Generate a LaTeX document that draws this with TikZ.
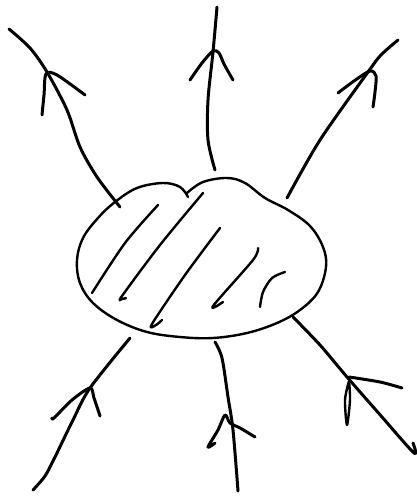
\documentclass[tikz,border=0pt]{standalone}
\begin{document}
\begin{tikzpicture}[x=1pt,y=-1pt,
  ink/.style={line width=3pt,line cap=round,line join=round},
  thin ink/.style={line width=2.4pt,line cap=round,line join=round}]
\useasboundingbox (0,0) rectangle (416,497);
% blob
\draw[thin ink] plot[smooth,tension=0.6] coordinates{(187,193) (203,182) (227,178) (245,183) (265,198) (288,210) (310,226) (323,247) (326,267) (318,292) (300,310) (277,323) (247,333) (213,338) (180,337) (147,332) (117,320) (93,303) (80,283) (77,260) (83,238) (98,218) (115,202) (137,188) (163,183) (180,187) (188,197)};
% hatching
\draw[thin ink] plot[smooth] coordinates{(158,205) (125,243) (92,293)};
\draw[thin ink] plot[smooth] coordinates{(203,193) (160,245) (122,296) (122,299) (126,298)};
\draw[thin ink] plot[smooth] coordinates{(220,228) (185,275) (152,324) (156,325) (162,320)};
\draw[thin ink] plot[smooth] coordinates{(258,248) (253,260) (213,306) (223,302)};
\draw[thin ink] plot[smooth] coordinates{(285,272) (272,278) (263,292) (260,307)};
% top-left arrow (outward)
\draw[ink] plot[smooth] coordinates{(120,207) (97,177) (80,147) (67,110) (47,72) (30,48) (9,29)};
\draw[ink] plot[smooth] coordinates{(42,115) (44,95) (46,74) (57,75) (85,95)};
% top arrow (outward)
\draw[ink] plot[smooth] coordinates{(215,170) (208,140) (208,100) (213,52) (217,7)};
\draw[ink] plot[smooth] coordinates{(190,80) (202,63) (213,51) (219,53) (224,64) (233,80)};
% top-right arrow (outward)
\draw[ink] plot[smooth] coordinates{(287,198) (320,140) (368,72) (381,55) (398,40)};
\draw[ink] plot[smooth] coordinates{(338,93) (354,81) (370,71) (376,76) (375,92) (373,107)};
% bottom-left arrow (inward)
\draw[ink] plot[smooth] coordinates{(33,490) (45,476) (55,457) (73,420) (90,388) (130,338)};
\draw[ink] plot[smooth] coordinates{(52,418) (54,418) (72,400) (90,388) (94,398) (100,416)};
% bottom arrow (inward)
\draw[ink] plot[smooth] coordinates{(215,342) (222,358) (228,397) (233,430) (238,491)};
\draw[ink] plot[smooth] coordinates{(215,443) (208,447) (218,430) (225,415) (230,423) (240,428) (255,437)};
% bottom-right arrow (inward)
\draw[ink] plot[smooth] coordinates{(293,317) (320,345) (347,377) (382,417) (414,453) (413,443)};
\draw[ink] plot[smooth] coordinates{(402,388) (380,382) (349,377)};
\draw[thin ink] plot[smooth] coordinates{(349,381) (345,400) (347,425) (350,400) (349,381)};
\end{tikzpicture}
\end{document}
